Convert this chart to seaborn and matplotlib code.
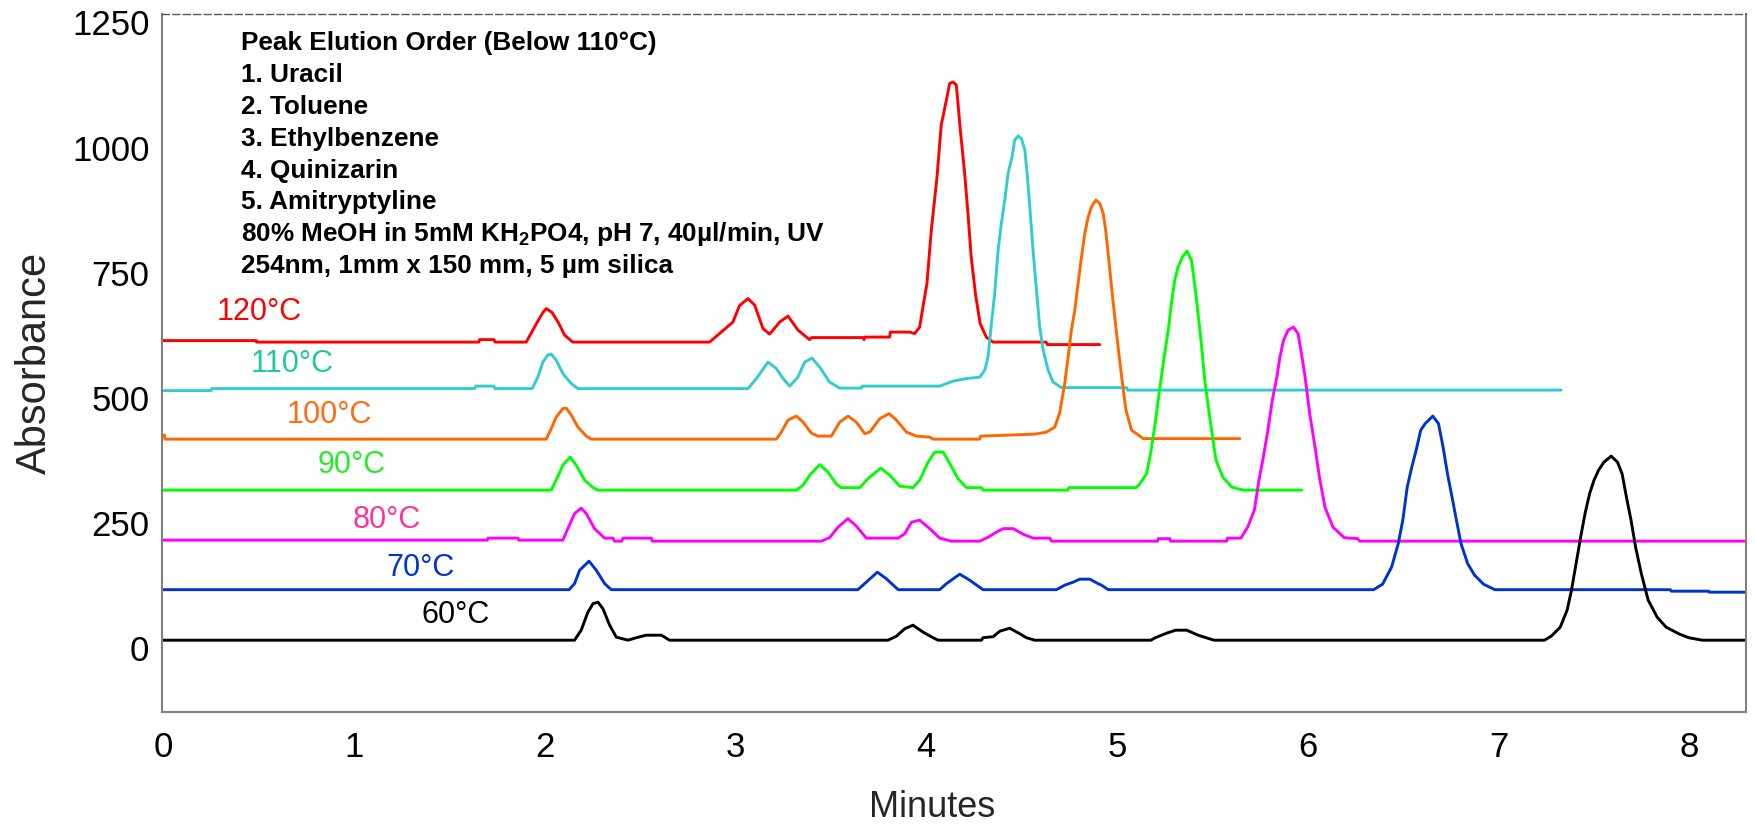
import pandas as pd
import seaborn as sns
import matplotlib
matplotlib.use("Agg")
import matplotlib.pyplot as plt

# chromatogram traces: (minutes, absorbance)
trace_120 = [(0, 614), (0.489, 614), (0.49, 611), (1.655, 611), (1.66, 616), (1.735, 616), (1.74, 611),
             (1.904, 611), (1.953, 645), (1.991, 670), (2.009, 678), (2.04, 670), (2.075, 648), (2.105, 625),
             (2.148, 611), (2.865, 611), (2.917, 628), (2.987, 651), (3.022, 684), (3.066, 698), (3.101, 685),
             (3.145, 638), (3.18, 627), (3.232, 651), (3.276, 663), (3.328, 635), (3.389, 616), (3.4, 620),
             (3.669, 620), (3.674, 616), (3.68, 621), (3.809, 621), (3.812, 631), (3.914, 631), (3.94, 628),
             (3.966, 641), (3.983, 681), (4.004, 728), (4.027, 835), (4.056, 938), (4.079, 1045), (4.106, 1095),
             (4.123, 1128), (4.141, 1131), (4.158, 1125), (4.179, 1035), (4.201, 951), (4.219, 868), (4.236, 781),
             (4.259, 705), (4.283, 648), (4.315, 621), (4.35, 611), (4.629, 611), (4.635, 606), (4.91, 606)]
trace_110 = [(0, 514), (0.253, 514), (0.255, 518), (1.633, 518), (1.64, 523), (1.735, 523), (1.74, 518),
             (1.935, 518), (1.965, 541), (1.991, 571), (2.017, 585), (2.035, 587), (2.061, 575), (2.096, 548),
             (2.14, 528), (2.175, 518), (3.066, 518), (3.11, 538), (3.171, 571), (3.215, 558), (3.25, 538),
             (3.285, 523), (3.328, 541), (3.363, 571), (3.402, 579), (3.442, 561), (3.494, 531), (3.547, 519),
             (3.66, 519), (3.665, 523), (4.071, 523), (4.141, 533), (4.211, 538), (4.281, 541), (4.307, 555),
             (4.324, 581), (4.342, 648), (4.359, 708), (4.377, 795), (4.394, 848), (4.412, 895), (4.429, 948),
             (4.45, 981), (4.464, 1015), (4.482, 1023), (4.499, 1018), (4.517, 995), (4.529, 948), (4.543, 881),
             (4.56, 795), (4.578, 715), (4.595, 641), (4.613, 595), (4.639, 555), (4.665, 531), (4.709, 520),
             (5.05, 520), (5.055, 515), (7.328, 515)]
trace_100 = [(0, 425), (0.008, 425), (0.01, 417), (2.009, 417), (2.035, 438), (2.061, 461), (2.096, 478),
             (2.114, 479), (2.14, 465), (2.175, 441), (2.219, 423), (2.245, 417), (3.215, 417), (3.241, 431),
             (3.276, 455), (3.32, 463), (3.355, 451), (3.398, 429), (3.433, 423), (3.503, 423), (3.547, 451),
             (3.591, 463), (3.634, 451), (3.678, 428), (3.704, 431), (3.757, 458), (3.806, 468), (3.844, 455),
             (3.897, 431), (3.949, 423), (4.019, 421), (4.036, 417), (4.281, 417), (4.285, 423), (4.569, 427),
             (4.63, 431), (4.674, 441), (4.7, 470), (4.726, 528), (4.744, 581), (4.761, 635), (4.779, 675),
             (4.796, 728), (4.814, 781), (4.831, 828), (4.849, 861), (4.866, 881), (4.889, 895), (4.91, 888),
             (4.928, 868), (4.942, 831), (4.959, 768), (4.977, 701), (4.994, 641), (5.012, 581), (5.029, 528),
             (5.047, 475), (5.076, 435), (5.138, 418), (5.644, 418)]
trace_90 = [(0, 315), (2.035, 315), (2.061, 335), (2.096, 365), (2.134, 381), (2.166, 365), (2.21, 335),
            (2.254, 320), (2.28, 315), (3.32, 315), (3.355, 325), (3.39, 345), (3.442, 366), (3.486, 351),
            (3.529, 327), (3.556, 320), (3.652, 320), (3.695, 338), (3.762, 359), (3.809, 345), (3.861, 323),
            (3.931, 320), (3.966, 335), (4.01, 371), (4.045, 391), (4.089, 391), (4.124, 368), (4.167, 338),
            (4.211, 320), (4.29, 320), (4.298, 315), (4.743, 315), (4.748, 320), (5.1, 320), (5.119, 327),
            (5.155, 348), (5.176, 388), (5.2, 448), (5.223, 515), (5.247, 581), (5.271, 641), (5.285, 688),
            (5.303, 735), (5.32, 761), (5.343, 781), (5.367, 793), (5.39, 775), (5.407, 728), (5.425, 668),
            (5.442, 608), (5.46, 535), (5.486, 461), (5.519, 375), (5.555, 341), (5.602, 321), (5.661, 315),
            (5.968, 315)]
trace_80 = [(0, 215), (1.7, 215), (1.703, 219), (1.861, 219), (1.865, 215), (2.096, 215), (2.122, 238),
            (2.157, 268), (2.192, 279), (2.219, 268), (2.262, 238), (2.315, 219), (2.359, 219), (2.367, 213),
            (2.405, 213), (2.411, 219), (2.56, 219), (2.565, 213), (3.451, 213), (3.494, 220), (3.538, 241),
            (3.59, 258), (3.634, 243), (3.687, 219), (3.853, 219), (3.888, 228), (3.923, 251), (3.966, 255),
            (4.019, 238), (4.071, 219), (4.132, 213), (4.281, 213), (4.325, 221), (4.368, 231), (4.403, 238),
            (4.456, 238), (4.508, 227), (4.561, 219), (4.648, 219), (4.657, 213), (5.213, 213), (5.216, 218),
            (5.278, 218), (5.28, 213), (5.575, 213), (5.579, 219), (5.649, 219), (5.685, 241), (5.72, 275),
            (5.744, 335), (5.767, 381), (5.791, 435), (5.814, 495), (5.838, 541), (5.854, 581), (5.873, 615),
            (5.897, 635), (5.925, 641), (5.949, 628), (5.967, 588), (5.986, 541), (6.01, 468), (6.038, 401),
            (6.061, 341), (6.09, 281), (6.132, 241), (6.191, 220), (6.262, 218), (6.273, 213), (8.3, 213)]
trace_70 = [(0, 116), (2.128, 116), (2.157, 128), (2.184, 155), (2.233, 173), (2.271, 155), (2.315, 128),
            (2.35, 116), (3.642, 116), (3.686, 131), (3.744, 151), (3.791, 138), (3.853, 116), (4.071, 116),
            (4.106, 128), (4.176, 147), (4.228, 135), (4.298, 116), (4.683, 116), (4.726, 125), (4.77, 131),
            (4.805, 137), (4.858, 137), (4.901, 128), (4.919, 125), (4.954, 116), (6.345, 116), (6.392, 127),
            (6.439, 161), (6.474, 208), (6.498, 255), (6.521, 321), (6.545, 361), (6.568, 395), (6.592, 435),
            (6.615, 448), (6.655, 463), (6.685, 448), (6.709, 401), (6.732, 348), (6.756, 301), (6.779, 255),
            (6.803, 208), (6.838, 168), (6.874, 145), (6.921, 127), (6.98, 116), (7.9, 116), (7.905, 113),
            (8.1, 113), (8.105, 111), (8.3, 111)]
trace_60 = [(0, 15), (2.157, 15), (2.192, 35), (2.227, 71), (2.254, 88), (2.28, 91), (2.306, 78), (2.341, 45),
            (2.376, 21), (2.437, 15), (2.481, 20), (2.533, 25), (2.612, 25), (2.655, 15), (3.8, 15), (3.844, 23),
            (3.888, 38), (3.931, 45), (3.984, 31), (4.036, 20), (4.062, 15), (4.29, 15), (4.298, 20), (4.351, 22),
            (4.386, 33), (4.438, 39), (4.49, 28), (4.525, 20), (4.569, 15), (5.178, 15), (5.201, 20), (5.26, 29),
            (5.307, 35), (5.366, 35), (5.425, 25), (5.508, 15), (7.24, 15), (7.276, 23), (7.323, 41), (7.359, 75),
            (7.382, 115), (7.406, 168), (7.43, 221), (7.453, 268), (7.477, 308), (7.5, 335), (7.524, 355),
            (7.552, 371), (7.59, 383), (7.623, 371), (7.647, 348), (7.67, 301), (7.694, 255), (7.718, 201),
            (7.748, 148), (7.784, 95), (7.831, 61), (7.878, 41), (7.949, 27), (7.996, 20), (8.067, 15), (8.3, 15)]

temps = ["120°C", "110°C", "100°C", "90°C", "80°C", "70°C", "60°C"]
traces = [trace_120, trace_110, trace_100, trace_90, trace_80, trace_70, trace_60]
info_lines = ["Peak Elution Order (Below 110°C)", "1. Uracil", "2. Toluene", "3. Ethylbenzene",
              "4. Quinizarin", "5. Amitryptyline",
              r"80% MeOH in 5mM KH$_\mathbf{2}$PO4, pH 7, 40µl/min, UV",
              "254nm, 1mm x 150 mm, 5 µm silica"]
yticks = [0, 250, 500, 750, 1000, 1250]
xticks = [0, 1, 2, 3, 4, 5, 6, 7, 8]

line_colors = ["#ff0000", "#33cccc", "#ff6600", "#00ff00", "#ff00ff", "#0033cc", "#000000"]
text_colors = ["#ff0000", "#1ec8a0", "#ff6a13", "#22ee22", "#ff3399", "#0033cc", "#000000"]
# where each temperature tag sits (left edge in minutes, centre in absorbance)
tag_x = [0.279, 0.462, 0.646, 0.812, 0.992, 1.173, 1.354]
tag_y = [671, 568, 465, 365, 256, 159, 65]

rows = []
for temp, tr in zip(temps, traces):
    for t, a in tr:
        rows.append({"Minutes": t, "Absorbance": a, "Temp": temp})
df = pd.DataFrame(rows)

sns.set_theme(style="white")
plt.rcParams["font.family"] = ["Liberation Sans", "DejaVu Sans"]
plt.rcParams["mathtext.fontset"] = "custom"
plt.rcParams["mathtext.bf"] = "Liberation Sans:bold"

fig = plt.figure(figsize=(17.55, 8.27), dpi=100)
ax = fig.add_axes([0.0923, 0.1394, 0.9024, 0.8437])

for temp, col in zip(temps, line_colors):
    sns.lineplot(data=df[df["Temp"] == temp], x="Minutes", y="Absorbance", color=col,
                 estimator=None, sort=False, linewidth=2.1, ax=ax)

for temp, col, tx, ty in zip(temps, text_colors, tag_x, tag_y):
    ax.text(tx, ty, temp, color=col, fontsize=22, ha="left", va="center")

for k, line in enumerate(info_lines):
    ax.text(0.0499, (711.7 - (50 + 31.9 * k)) / 697.7, line, transform=ax.transAxes,
            fontsize=18.8, fontweight="bold", ha="left", va="baseline", color="black")

ax.set_xlim(-0.005, 8.295)
ax.set_ylim(-128, 1267)
ax.set_xticks(xticks)
ax.set_yticks(yticks)
ax.tick_params(axis="both", length=0, labelsize=25, colors="black")
ax.tick_params(axis="x", pad=14)
ax.tick_params(axis="y", pad=9)
ax.set_xlabel("Minutes", fontsize=26)
ax.set_ylabel("Absorbance", fontsize=30, labelpad=12)
ax.xaxis.set_label_coords(0.486, -0.112)
ax.grid(False)

for side in ["left", "bottom", "right"]:
    ax.spines[side].set_color("#808080")
    ax.spines[side].set_linewidth(1.5)
ax.spines["top"].set_color("#555555")
ax.spines["top"].set_linewidth(1.0)
ax.spines["top"].set_linestyle((0, (5, 2.5)))

fig.savefig("out.png", dpi=100)
